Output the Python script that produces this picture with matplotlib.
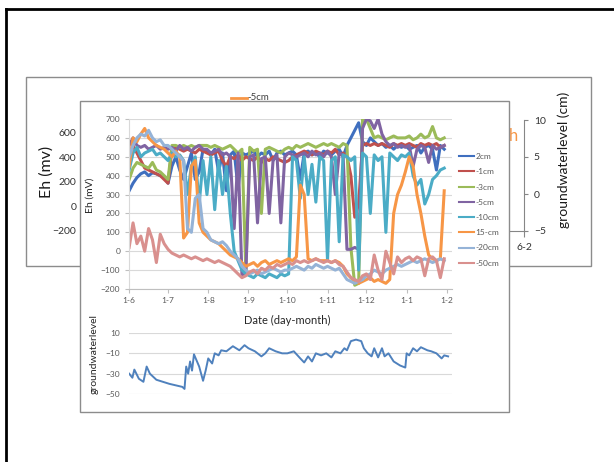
import numpy as np
import matplotlib
matplotlib.use('Agg')
import matplotlib.pyplot as plt
from matplotlib.patches import Rectangle
from matplotlib.lines import Line2D

plt.rcParams['font.family'] = ['Lato', 'DejaVu Sans']

W, H = 614, 462

def box(x0, y0, x1, y1):
    # pixel box -> figure fraction [left, bottom, width, height]
    return [x0 / W, 1 - y1 / H, (x1 - x0) / W, (y1 - y0) / H]

# ------------------------------
# Data
# ------------------------------
# days since 1 June, one reading every 3 days
day = np.arange(0, 244, 3)

month_days = [0, 30, 61, 92, 122, 153, 183, 214, 245]
month_labels = ['1-6', '1-7', '1-8', '1-9', '1-10', '1-11', '1-12', '1-1', '1-2']

eh_2cm = ([320, 360, 390, 410, 420, 400, 415, 410, 400, 390] +
          [360, 450, 500, 430, 380, 450, 520, 380, 420, 540] +
          [530, 510, 540, 420, 520, 320, 510, 530, 330, 520, 510] +
          [520, 530, 500, 520, 510, 530, 480, 520, 530, 510] +
          [520, 530, 510, 380, 520, 530, 510, 520, 500, 530] +
          [520, 510, 530, 540, 500, 560, 600, 640, 680, 580] +
          [560, 600, 580, 560, 570, 550, 560, 540, 560, 550] +
          [560, 540, 550, 560, 520, 550, 560, 540, 430, 560, 540])

eh_1cm = ([500, 560, 520, 480, 440, 430, 420, 410, 400, 380] +
          [360, 540, 550, 540, 530, 540, 530, 520, 540, 530] +
          [520, 510, 520, 530, 480, 450, 500, 490, 510, 480, 500] +
          [490, 480, 500, 470, 490, 480, 500, 490, 480, 470] +
          [480, 500, 510, 520, 530, 520, 510, 530, 520, 510] +
          [530, 520, 540, 510, 520, 500, 400, 180, 250, 560] +
          [570, 560, 570, 560, 570, 560, 550, 570, 560, 570] +
          [560, 570, 560, 550, 570, 560, 570, 560, 570, 550, 560])

eh_3cm = ([380, 440, 470, 460, 450, 440, 470, 430, 420, 400] +
          [380, 560, 560, 550, 560, 550, 560, 550, 560, 560] +
          [560, 550, 560, 550, 540, 550, 560, 540, 520, 540, -100] +
          [550, 530, 540, 200, 540, 550, 540, 530, 520, 540] +
          [550, 540, 560, 550, 560, 570, 560, 550, 560, 570] +
          [560, 570, 560, 550, 570, 560, 20, -180, -170, 700] +
          [700, 650, 600, 610, 600, 590, 600, 610, 600, 600] +
          [600, 610, 590, 600, 620, 600, 610, 660, 600, 590, 600])

eh_5cm = ([560, 600, 560, 550, 560, 540, 550, 560, 540, 550] +
          [540, 550, 530, 560, 540, 550, 530, 550, 560, 540] +
          [540, 520, 530, 540, 510, 520, 500, 120, 520, -130, -120] +
          [500, 510, 150, 490, 500, 200, 480, 510, 150, 500] +
          [520, 510, 500, 510, 520, 500, 530, 510, 520, 500] +
          [530, 500, 300, 520, 510, 10, 10, 20, 10, 650] +
          [700, 690, 650, 700, 620, 580, 560, 570, 550, 560] +
          [550, 560, 450, 540, 560, 550, 470, 560, 540, 550, 560])

eh_10cm = ([430, 520, 550, 500, 520, 530, 540, 510, 520, 500] +
           [480, 520, 500, 510, 480, 300, 450, 500, 250, 480] +
           [300, 500, 220, 480, 300, 450, 200, 0, -50, -100, -120] +
           [-130, -140, -120, -130, -140, -120, -130, -140, -120, -130] +
           [-120, 500, 480, 280, 500, 300, 460, 260, 500, 480] +
           [-50, 480, 500, 50, 510, 500, 480, 500, -100, 520] +
           [500, 200, 510, 480, 500, 100, 520, 500, 480, 510] +
           [500, 520, 400, 350, 380, 250, 300, 380, 400, 430, 440])

eh_15cm = ([450, 600, 580, 620, 650, 600, 580, 560, 550, 540] +
           [520, 500, 530, 500, 70, 100, 450, 480, 150, 100] +
           [80, 60, 50, 40, 20, 0, -20, -30, -40, -60, -80] +
           [-70, -60, -80, -60, -50, -70, -60, -50, -60, -50] +
           [-40, -50, -30, 350, 300, -40, -50, -40, -50, -50] +
           [-50, -60, -50, -60, -80, -120, -140, -160, -170, -160] +
           [-150, -140, -160, -150, -160, -170, -150, 200, 300, 350] +
           [420, 500, 450, 300, 200, 80, -20, -40, -50, -40, 320])

eh_20cm = ([500, 560, 600, 620, 610, 640, 600, 580, 590, 560] +
           [560, 540, 520, 500, 480, 120, 100, 280, 300, 120] +
           [100, 60, 50, 40, 50, 30, 0, -20, -40, -80, -100] +
           [-120, -110, -100, -120, -110, -100, -90, -100, -110, -100] +
           [-100, -90, -80, -90, -100, -80, -90, -70, -80, -90] +
           [-80, -90, -100, -90, -120, -150, -160, -170, -160, -150] +
           [-130, -120, -100, -110, -120, -100, -90, -80, -70, -80] +
           [-70, -60, -50, -60, -50, -40, -50, -60, -50, -40, -50])

eh_50cm = ([20, 150, 40, 80, 0, 120, 60, -60, 90, 40] +
           [10, -10, -20, -30, -20, -30, -40, -30, -40, -50] +
           [-40, -50, -60, -50, -60, -70, -80, -100, -120, -140, -130] +
           [-110, -100, -120, -90, -100, -80, -90, -70, -80, -70] +
           [-60, -70, -50, -60, -50, -60, -50, -40, -50, -60] +
           [-50, -60, -50, -70, -80, -110, -140, -150, -160, -130] +
           [-120, -150, -20, -100, -150, 0, -60, -120, -30, -60] +
           [-40, -30, -50, -30, -40, -130, -40, -30, -50, -140, -40])

series_labels = ['2cm', '-1cm', '-3cm', '-5cm', '-10cm', '15-cm', '-20cm', '-50cm']
series_values = [eh_2cm, eh_1cm, eh_3cm, eh_5cm, eh_10cm, eh_15cm, eh_20cm, eh_50cm]
series_colors = ['#3F6FBF', '#C0504D', '#9BBB59', '#8064A2',
                 '#4BACC6', '#F79646', '#95B3D7', '#D9908E']

gw_day = [0, 2.5, 4, 7.5, 11, 13.5, 16, 21, 31, 41, 42.7, 44, 45.5, 47, 48.5,
          50, 54, 57, 59, 61, 64, 66, 69, 71, 75, 78, 80, 85, 89, 92,
          97, 102, 105, 108, 113, 118, 122, 127, 132, 135, 138, 141, 144, 148, 152,
          156, 159, 163, 166, 168, 171, 175, 179, 181, 184, 187, 189, 192, 195, 197,
          200, 204, 209, 213, 214, 216, 219, 222, 225, 230, 233, 237, 241, 243, 246]
gw_level = [-30, -34, -26, -35, -38, -23, -30, -36, -40, -43, -45, -23, -30, -18, -27,
            -11, -23, -37, -27, -15, -20, -10, -12, -7, -8, -5, -3, -7, -2, -5,
            -8, -13, -10, -5, -8, -10, -10, -8, -15, -19, -13, -18, -10, -12, -10,
            -14, -8, -10, -5, -7, 2, 3.5, 2, -5, -10, -13, -5, -14, -5, -13,
            -10, -18, -22, -24, -10, -12, -5, -8, -4, -7, -8, -10, -15, -12, -13]

back_eh_ticks = [-200, 0, 200, 400, 600]
back_gw_ticks = [-5, 0, 5, 10]

# ------------------------------
# Figure
# ------------------------------
fig = plt.figure(figsize=(6.14, 4.62), dpi=100)
fig.patch.set_facecolor('white')

# outer black frame (left and top visible)
fig.add_artist(Line2D([6 / W, 6 / W], [0, 1 - 9 / H], color='black', lw=2, transform=fig.transFigure))
fig.add_artist(Line2D([6 / W, 1], [1 - 9 / H, 1 - 9 / H], color='black', lw=2, transform=fig.transFigure))

# back chart panel
fig.add_artist(Rectangle((26 / W, 1 - 266 / H), (591 - 26) / W, (266 - 77) / H,
                         transform=fig.transFigure, fc='white', ec='#8c8c8c', lw=1, zorder=0.5))

ax_back = fig.add_axes(box(82, 120, 524, 231), zorder=1)
ax_back.set_facecolor('none')
ax_back.set_ylim(-200, 706)
ax_back.set_yticks(back_eh_ticks)
ax_back.tick_params(axis='y', length=0, pad=4, labelsize=7.5, labelcolor='#333333')
ax_back.set_xlim(0, 1)
ax_back.set_xticks([1])
ax_back.set_xticklabels(['6-2'])
ax_back.tick_params(axis='x', length=4, color='#868686', pad=5, labelsize=7.5, labelcolor='#333333')
for s in ['top', 'left', 'right']:
    ax_back.spines[s].set_visible(False)
ax_back.spines['bottom'].set_color('#868686')

ax_back_r = ax_back.twinx()
ax_back_r.set_zorder(1)
ax_back_r.set_ylim(-5, 10)
ax_back_r.set_yticks(back_gw_ticks)
ax_back_r.tick_params(axis='y', length=3, color='#868686', pad=4, labelsize=7.5, labelcolor='#333333')
for s in ['top', 'left', 'bottom']:
    ax_back_r.spines[s].set_visible(False)
ax_back_r.spines['right'].set_color('#868686')

fig.text(47 / W, 1 - 172 / H, 'Eh (mv)', rotation=90, ha='center', va='center',
         fontsize=11.5, color='#1a1a1a', zorder=1.5)
fig.text(564 / W, 1 - 160 / H, 'groundwaterlevel (cm)', rotation=90, ha='center', va='center',
         fontsize=10, color='#1a1a1a', zorder=1.5)
fig.text(514 / W, 1 - 136 / H, 'h', ha='center', va='center', fontsize=12,
         color='#F79646', zorder=1.5)
fig.add_artist(Line2D([231 / W, 247 / W], [1 - 98 / H, 1 - 98 / H], color='#F79646', lw=2,
                      transform=fig.transFigure, zorder=1.5))
fig.text(247 / W, 1 - 98 / H, '-5cm', ha='left', va='center', fontsize=7,
         color='#404040', zorder=1.5)

# front chart panel
fig.add_artist(Rectangle((80 / W, 1 - 412 / H), (509 - 80) / W, (412 - 101) / H,
                         transform=fig.transFigure, fc='white', ec='#8c8c8c', lw=1, zorder=2))

# main Eh chart
ax = fig.add_axes(box(128.5, 119, 452, 289), zorder=3)
ax.set_facecolor('none')
for lab, vals, col in zip(series_labels, series_values, series_colors):
    ax.plot(day, vals, color=col, lw=2.2, label=lab)
ax.set_xlim(-0.5, 249)
ax.set_ylim(-200, 700)
ax.set_yticks(np.arange(-200, 701, 100))
ax.set_xticks(month_days)
ax.set_xticklabels(month_labels)
ax.grid(axis='y', color='#d9d9d9', lw=0.8)
ax.set_axisbelow(True)
ax.tick_params(axis='both', labelsize=6, labelcolor='#595959', color='#bfbfbf', length=3, pad=3)
for s in ['top', 'right']:
    ax.spines[s].set_visible(False)
ax.spines['left'].set_color('#d9d9d9')
ax.spines['bottom'].set_color('#bfbfbf')

leg = ax.legend(loc='upper left', bbox_to_anchor=(459 / W, 1 - 153 / H), bbox_transform=fig.transFigure,
                frameon=False, fontsize=6, handlelength=1.8, handletextpad=0.2, labelspacing=0.99,
                labelcolor='#595959', borderaxespad=0, borderpad=0)
for h in leg.get_lines():
    h.set_linewidth(1.5)

fig.text(90 / W, 1 - 195 / H, 'Eh (mV)', rotation=90, ha='center', va='center',
         fontsize=7.5, color='#262626', zorder=4)
fig.text(287 / W, 1 - 320 / H, 'Date (day-month)', ha='center', va='center',
         fontsize=8, color='#262626', zorder=4)

# groundwater level chart
ax_gw = fig.add_axes(box(128.5, 333, 452, 394), zorder=3)
ax_gw.set_facecolor('none')
ax_gw.plot(gw_day, gw_level, color='#4F81BD', lw=1.4)
ax_gw.set_xlim(-0.5, 249)
ax_gw.set_ylim(-50, 10)
ax_gw.set_yticks([10, -10, -30, -50])
ax_gw.set_xticks([])
ax_gw.grid(axis='y', color='#d9d9d9', lw=0.8)
ax_gw.set_axisbelow(True)
ax_gw.tick_params(axis='y', labelsize=6, labelcolor='#595959', length=0, pad=6)
for s in ax_gw.spines.values():
    s.set_visible(False)

fig.text(94 / W, 1 - 354 / H, 'groundwaterlevel', rotation=90, ha='center', va='center',
         fontsize=7.5, color='#262626', zorder=4)

fig.savefig('out.png', dpi=100)
